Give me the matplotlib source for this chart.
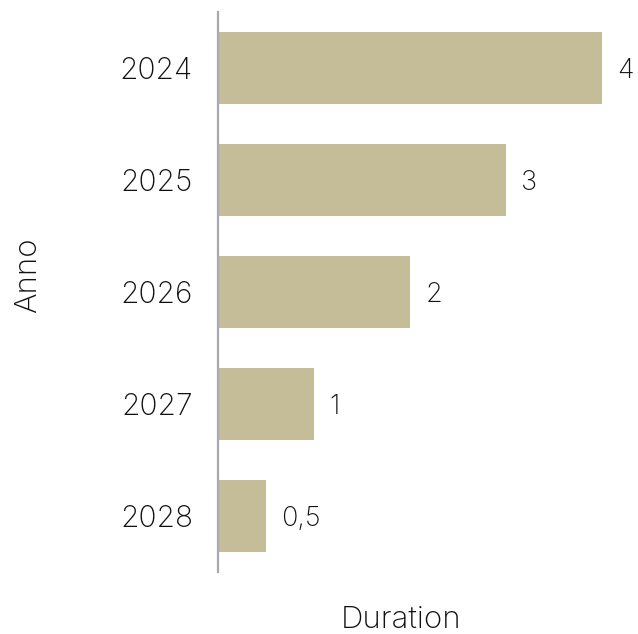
import matplotlib
matplotlib.use("Agg")
import matplotlib.pyplot as plt

years = ["2024", "2025", "2026", "2027", "2028"]
durations = [4, 3, 2, 1, 0.5]
value_labels = ["4", "3", "2", "1", "0,5"]

plt.rcParams['font.family'] = ['Inter', 'DejaVu Sans']
W, H = 638, 634
fig = plt.figure(figsize=(W / 100, H / 100), dpi=100)
ax = fig.add_axes([218 / W, (H - 572) / H, (W - 218) / W, 560 / H])

ypos = list(range(len(years)))
ax.barh(ypos, durations, height=0.64, color="#C5BD98", zorder=2)
ax.set_ylim(len(years) - 0.5, -0.5)
ax.set_xlim(0, 4.375)
ax.set_yticks(ypos)
ax.set_yticklabels(years, fontsize=21.5, fontweight='light', color="#111111")
ax.tick_params(axis='y', length=0, pad=18)
ax.set_xticks([])
for s in ["top", "right", "bottom"]:
    ax.spines[s].set_visible(False)
ax.spines["left"].set_color("#AAAAAA")
ax.spines["left"].set_linewidth(1.6)

for y, v, lab in zip(ypos, durations, value_labels):
    ax.annotate(lab, (v, y), xytext=(11, -2), textcoords="offset points",
                va="center", ha="left", fontsize=19.5, fontweight='light', color="#111111")

fig.text(28 / W, 1 - 275 / H, "Anno", rotation=90, ha="center", va="center",
         fontsize=22.5, fontweight='light', color="#111111")
fig.text(401 / W, 1 - 620 / H, "Duration", ha="center", va="center",
         fontsize=22.5, fontweight='light', color="#111111")

fig.savefig("out.png", dpi=100)
